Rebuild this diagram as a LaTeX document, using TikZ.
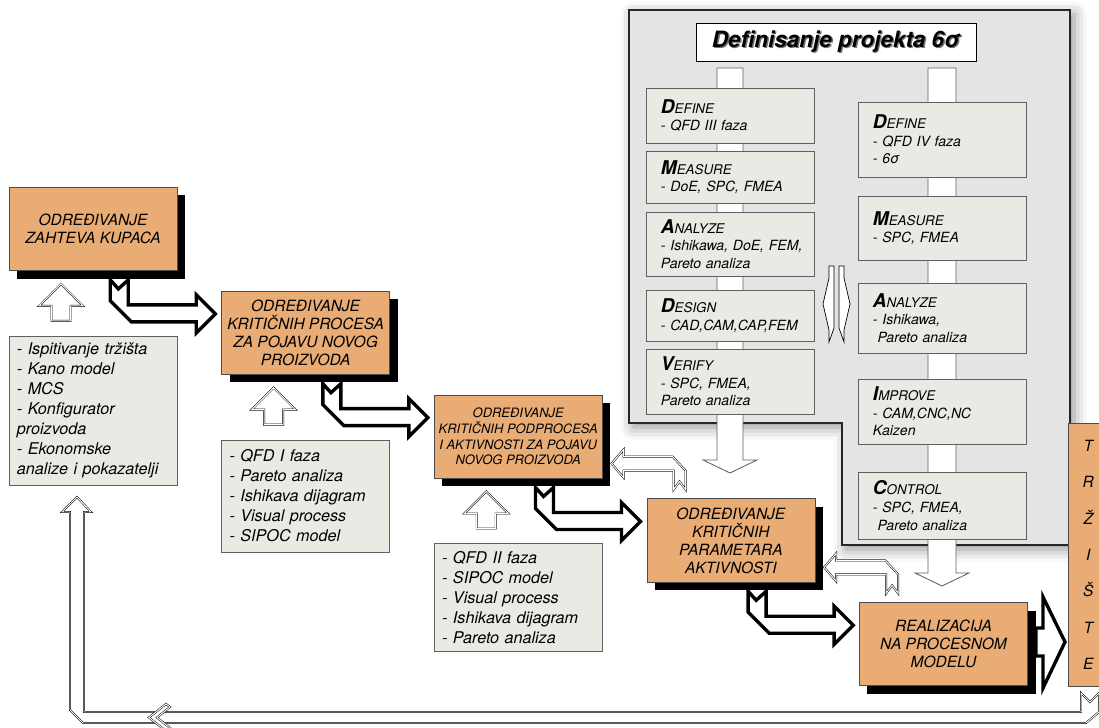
\documentclass[tikz,border=0pt]{standalone}
\usepackage{fontspec}
\setmainfont{TeX Gyre Heros}
\usepackage{xcolor}
\usetikzlibrary{positioning, calc, shadows, shadows.blur}

\definecolor{narandza}{RGB}{233,172,117}
\definecolor{sivokutija}{RGB}{235,233,227}
\definecolor{sivopanel}{RGB}{228,228,228}
\definecolor{ivica}{RGB}{95,95,95}

% prvo slovo koraka veliko i masno
\newcommand{\sigmanaslov}[2]{{\fontsize{13.5}{13.5}\selectfont\bfseries #1}{\fontsize{9.5}{9.5}\selectfont #2}}

\tikzset{
    hollow/.style={draw=black, line width=0.35pt, double=white, double distance=0.7pt, fill=white},
    debela/.style={draw=black, line width=2.4pt, line join=miter, fill=white},
    bentarr/.pic={
        \draw[debela] (0,0) -- (8,9) -- (18,0) -- (18,25) -- (86,25) -- (86,15)
            -- (105,34) -- (86,53) -- (86,42) -- (21,42) -- (0,21) -- cycle;
    },
    uparr/.pic={
        \draw[hollow] (-9.5,0) -- (-9.5,-15) -- (-22,-15) -- (0,-37) -- (22,-15)
            -- (9.5,-15) -- (9.5,0) -- cycle;
    },
    hookarr/.pic={
        \draw[hollow] (0,0) -- (12,-14) -- (12,-7) -- (61,-7) -- (74,7) -- (74,26)
            -- (68,18) -- (62,26) -- (62,7) -- (12,7) -- (12,14) -- cycle;
    }
}

\begin{document}
\begin{tikzpicture}[
    x=0.025cm, y=-0.025cm,
    every node/.style={font=\itshape},
    glavni/.style={draw=black!70, fill=narandza, minimum width=4.2cm, minimum height=2.08cm,
        align=center, inner sep=0pt, font=\itshape\fontsize{11}{12.8}\selectfont,
        drop shadow={shadow xshift=0.2cm, shadow yshift=-0.2cm, fill=black, opacity=1}},
    metoda/.style={draw=ivica, fill=sivokutija, text width=3.8cm, inner xsep=0.2cm,
        align=left, font=\itshape\fontsize{11.5}{14.2}\selectfont},
    korak/.style={draw=ivica, fill=sivokutija, text width=3.45cm, inner xsep=0.375cm,
        align=left, font=\itshape\fontsize{10}{12.5}\selectfont},
    traka/.style={draw=ivica, fill=white, line width=0.6pt}
]
\useasboundingbox (0,0) rectangle (1099,728);

   % Six sigma panel
   \path[fill=sivopanel, draw=black!85, line width=1pt,
       blur shadow={shadow xshift=3pt, shadow yshift=-3pt, shadow blur radius=9pt, shadow opacity=45}]
       (629,10) -- (1070,10) -- (1070,545) -- (842,545) -- (842,423) -- (629,423) -- cycle;

   \draw[traka] (717,68) -- (743,68) -- (743,460) -- (757,460) -- (730,473) -- (703,460) -- (717,460) -- cycle;
   \draw[traka] (928,68) -- (956,68) -- (956,573) -- (969,573) -- (942,586) -- (915,573) -- (928,573) -- cycle;

   \node[draw=black, fill=white, minimum width=7cm, minimum height=0.95cm,
       font=\bfseries\itshape\fontsize{16}{16}\selectfont] (projekat) at (836,42)
       {\rlap{\kern1pt\raisebox{-1pt}{\color{black!55}Definisanje projekta 6σ}}Definisanje projekta 6σ};

   \node[korak, minimum height=1.375cm] (ldefine) at (730,115.5) {\sigmanaslov{D}{EFINE}\\- QFD III faza};
   \node[korak, minimum height=1.3cm] (lmeasure) at (730,177) {\sigmanaslov{M}{EASURE}\\- DoE, SPC, FMEA};
   \node[korak, minimum height=1.6cm] (lanalyze) at (730,244) {\sigmanaslov{A}{NALYZE}\\\mbox{- Ishikawa, DoE, FEM,}\\Pareto analiza};
   \node[korak, minimum height=1.275cm] (ldesign) at (730,315.5) {\sigmanaslov{D}{ESIGN}\\\mbox{- CAD,CAM,CAP,FEM}};
   \node[korak, minimum height=1.625cm] (lverify) at (730,381.5) {\sigmanaslov{V}{ERIFY}\\- SPC, FMEA,\\Pareto analiza};

   \node[korak, minimum height=1.875cm] (rdefine) at (942,139.5) {\sigmanaslov{D}{EFINE}\\- QFD IV faza\\- 6σ};
   \node[korak, minimum height=1.6cm] (rmeasure) at (942,228) {\sigmanaslov{M}{EASURE}\\- SPC, FMEA};
   \node[korak, minimum height=1.75cm] (ranalyze) at (942,318) {\sigmanaslov{A}{NALYZE}\\- Ishikawa,\\\ Pareto analiza};
   \node[korak, minimum height=1.625cm] (rimprove) at (942,411.5) {\sigmanaslov{I}{MPROVE}\\- CAM,CNC,NC\\Kaizen};
   \node[korak, minimum height=1.675cm] (rcontrol) at (942,505.5) {\sigmanaslov{C}{ONTROL}\\- SPC, FMEA,\\\ Pareto analiza};

   % veza izmedju kolona
   \draw[fill=white, line width=0.5pt] (829,266) -- (834,266) -- (834,328) -- (829,342) -- (829,330) -- (823,304) -- (829,278) -- cycle;
   \draw[fill=white, line width=0.5pt] (844,266) -- (839,266) -- (839,328) -- (844,342) -- (844,330) -- (850,304) -- (844,278) -- cycle;

   % Glavni tok
   \node[glavni] (zahtev) at (93,229) {ODREĐIVANJE\\ZAHTEVA KUPACA};
   \node[glavni, below right=0.5cm and 1.1cm of zahtev] (procesi) {ODREĐIVANJE\\KRITIČNIH PROCESA\\ZA POJAVU NOVOG\\PROIZVODA};
   \node[glavni, below right=0.5cm and 1.1cm of procesi, font=\itshape\fontsize{9.2}{11.1}\selectfont] (podprocesi)
       {ODREĐIVANJE\\KRITIČNIH PODPROCESA\\I AKTIVNOSTI ZA POJAVU\\NOVOG PROIZVODA};
   \node[glavni, below right=0.5cm and 1.1cm of podprocesi] (parametri) {ODREĐIVANJE\\KRITIČNIH\\PARAMETARA\\AKTIVNOSTI};
   \node[glavni, below right=0.5cm and 1.1cm of parametri] (realizacija) {REALIZACIJA\\NA PROCESNOM\\MODELU};

   % Metode
   \node[metoda, minimum height=3.725cm, below=1.625cm of zahtev] (metode1)
       {- Ispitivanje tržišta\\- Kano model\\- MCS\\- Konfigurator\\proizvoda\\- Ekonomske\\analize i pokazatelji};
   \node[metoda, minimum height=2.8cm, below=1.625cm of procesi] (metode2)
       {- QFD I faza\\- Pareto analiza\\- Ishikava dijagram\\- Visual process\\- SIPOC model};
   \node[metoda, minimum height=2.675cm, below=1.625cm of podprocesi] (metode3)
       {- QFD II faza\\- SIPOC model\\- Visual process\\- Ishikava dijagram\\- Pareto analiza};

   \pic at ($(metode1.north)+(-32,-15)$) {uparr};
   \pic at ($(metode2.north)+(-32,-15)$) {uparr};
   \pic at ($(metode3.north)+(-32,-15)$) {uparr};

   % Strelice izmedju koraka
   \pic at ($(zahtev.south east)+(-67,9)$) {bentarr};
   \pic at ($(procesi.south east)+(-67,9)$) {bentarr};
   \pic at ($(podprocesi.south east)+(-67,9)$) {bentarr};
   \pic at ($(parametri.south east)+(-67,9)$) {bentarr};

   \pic at ($(podprocesi.east)+(9,27)$) {hookarr};
   \pic at ($(parametri.east)+(9,27)$) {hookarr};

   % Trziste
   \node[draw=black!70, fill=narandza, minimum width=1cm, minimum height=6.575cm, anchor=north west,
       align=center, font=\itshape\fontsize{11}{25.8}\selectfont] (trziste) at (1068,423)
       {T\\R\\Ž\\I\\Š\\T\\E};
   \draw[debela] (1043,597) -- (1065,642) -- (1043,688) -- (1043,656) -- (1036,656) -- (1036,628) -- (1043,628) -- cycle;

   % Povratna sprega
   \draw[hollow] (1099,693) -- (1090,702) -- (1081,693) -- (1081,712) -- (84,712) -- (84,512) -- (91,512)
       -- (77,497) -- (62,512) -- (70,512) -- (70,710) -- (83,723) -- (1086,723) -- (1099,712) -- cycle;
   \draw[hollow] (166,704) -- (149,717.5) -- (166,731) -- (170,728) -- (157,717.5) -- (170,707) -- cycle;

\end{tikzpicture}
\end{document}
